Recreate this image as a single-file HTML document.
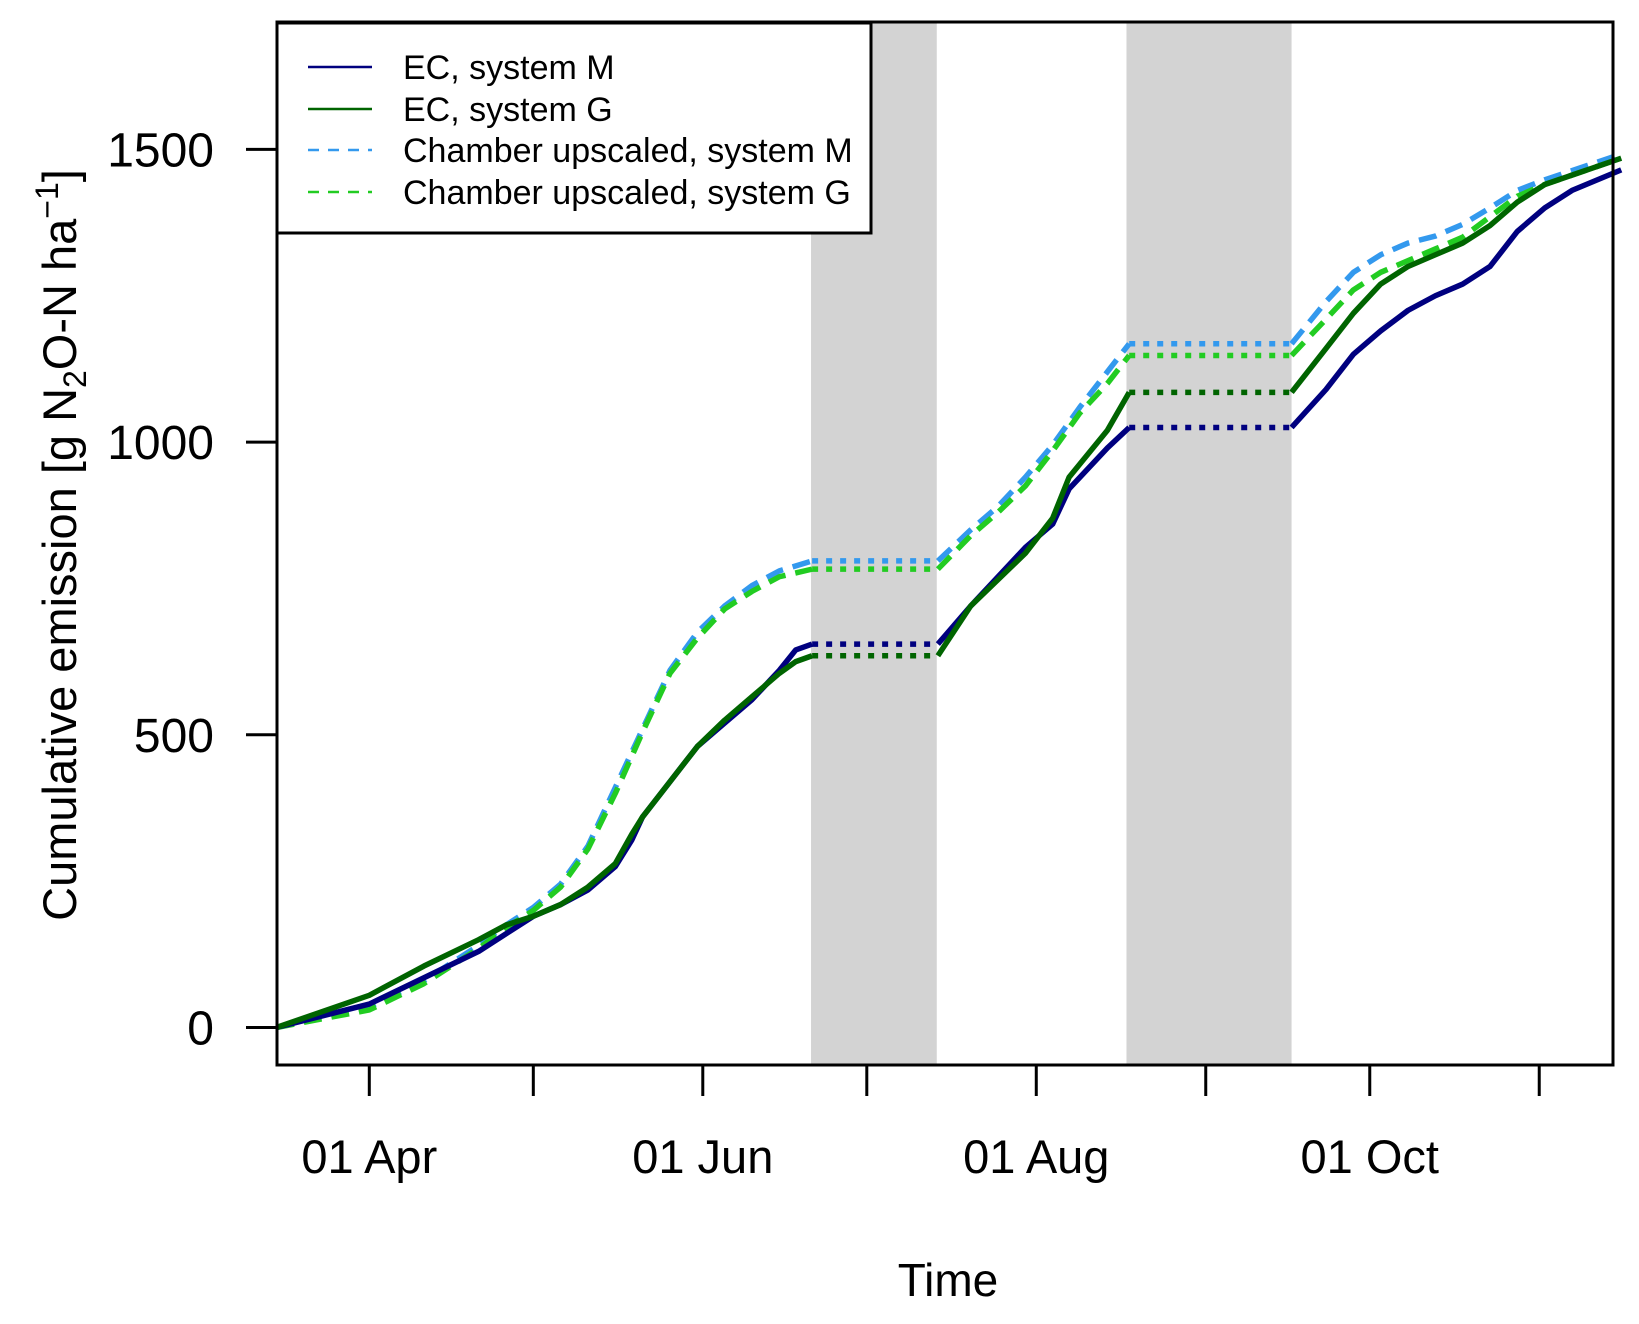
<!DOCTYPE html>
<html><head><meta charset="utf-8"><style>
html,body{margin:0;padding:0;background:#fff;}
svg{display:block;font-family:"Liberation Sans",Arial,sans-serif;}
</style></head><body>
<svg id="chart" width="1639" height="1324" viewBox="0 0 1639 1324" xmlns="http://www.w3.org/2000/svg">
<g id="bands"></g>
<g id="series"></g>
<rect x="277" y="22" width="1336" height="1043" fill="none" stroke="#000" stroke-width="3"/>
<g id="yaxis"></g>
<g id="xaxis"></g>
<text x="948" y="1296" font-size="46" text-anchor="middle">Time</text>
<text transform="translate(76,545) rotate(-90)" font-size="47" text-anchor="middle">Cumulative emission [g N<tspan font-size="32" dy="10">2</tspan><tspan dy="-10">O-N ha</tspan><tspan font-size="32" dy="-18">−1</tspan><tspan dy="18">]</tspan></text>
<g>
<rect x="277" y="23" width="594" height="210" fill="#fff" stroke="#000" stroke-width="3"/>
<g><line x1="308" y1="67" x2="372" y2="67" stroke="#00007f" stroke-width="2.5"/><text x="403" y="79" font-size="34">EC, system M</text></g>
<g><line x1="308" y1="109" x2="372" y2="109" stroke="#006400" stroke-width="2.5"/><text x="403" y="121" font-size="34">EC, system G</text></g>
<g><line x1="308" y1="150" x2="372" y2="150" stroke="#3399ee" stroke-width="2.5" stroke-dasharray="11,9"/><text x="403" y="162" font-size="34">Chamber upscaled, system M</text></g>
<g><line x1="308" y1="192" x2="372" y2="192" stroke="#22cc22" stroke-width="2.5" stroke-dasharray="11,9"/><text x="403" y="204" font-size="34">Chamber upscaled, system G</text></g>
</g>
</svg>
<script>
// days relative to 01 Apr
const gapBands = [[80.8,103.8],[138.5,168.7]];
const yTicks = [0,500,1000,1500];
const xTickDays = [0,30,61,91,122,153,183,214];
const xTickLabels = ["01 Apr","","01 Jun","","01 Aug","","01 Oct",""];
const ecMDays = [-17,0,10,20,25,30,35,40,45,48,50,55,60,65,70,75,78,81,104,110,115,120,125,128,135,139,168.7,175,180,185,190,195,200,205,210,215,220,229];
const ecMVals = [0,40,85,130,160,190,210,235,275,320,360,420,480,520,560,610,645,655,655,720,770,820,860,920,990,1025,1025,1090,1150,1190,1225,1250,1270,1300,1360,1400,1430,1465];
const ecGDays = [-17,0,10,20,25,30,35,40,45,48,50,55,60,65,70,75,78,81,104,110,115,120,125,128,135,139,168.7,175,180,185,190,195,200,205,210,215,229];
const ecGVals = [0,55,105,150,175,190,210,240,280,330,360,420,480,525,565,605,625,635,635,720,765,810,870,940,1020,1085,1085,1160,1220,1270,1300,1320,1340,1370,1410,1440,1485];
const chMDays = [-17,0,10,20,25,30,35,40,45,50,55,60,65,70,75,81,104,110,115,120,125,130,135,139,168.7,175,180,185,190,195,200,205,210,215,229];
const chMVals = [0,35,80,140,175,205,245,310,410,510,610,675,720,755,780,797,797,850,890,940,995,1060,1120,1168,1168,1240,1290,1320,1340,1352,1372,1400,1430,1448,1492];
const chGDays = [-17,0,10,20,25,30,35,40,45,50,55,60,65,70,75,81,104,110,115,120,125,130,135,139,168.7,175,180,185,190,195,200,205,210,215,229];
const chGVals = [0,30,75,135,170,200,240,305,400,505,605,665,715,745,770,783,783,840,880,925,985,1050,1100,1148,1148,1210,1260,1290,1310,1330,1350,1385,1420,1440,1485];

const NS="http://www.w3.org/2000/svg";
const X = d => 369.3 + 5.467*d;
const Y = v => 1027.5 - v*0.5854;
function mk(tag, attrs, parent){const e=document.createElementNS(NS,tag);for(const k in attrs)e.setAttribute(k,attrs[k]);parent.appendChild(e);return e;}

const bands=document.getElementById('bands');
gapBands.forEach(b=>{
  const r=mk('rect',{x:X(b[0]),y:22,width:X(b[1])-X(b[0]),height:1043,fill:'#d3d3d3'},bands);
  
  
});
const ya=document.getElementById('yaxis');
yTicks.forEach(v=>{
  const l=mk('line',{x1:246,x2:277,y1:Y(v),y2:Y(v),stroke:'#000','stroke-width':3},ya);
  
  
  const t=mk('text',{x:214,y:Y(v)+17,'font-size':48,'text-anchor':'end'},ya);
  t.textContent=v;
  
  
});
const xa=document.getElementById('xaxis');
xTickDays.forEach((d,i)=>{
  const l=mk('line',{x1:X(d),x2:X(d),y1:1065,y2:1096,stroke:'#000','stroke-width':3},xa);
  
  
  if(xTickLabels[i]){
    const t=mk('text',{x:X(d),y:1173,'font-size':47,'text-anchor':'middle'},xa);
    t.textContent=xTickLabels[i];
    
    
  }
});
const sg=document.getElementById('series');
function inGap(a,b){return gapBands.some(g=>a>=g[0]-2&&b<=g[1]+0.5&&(b-a)>15);}
function draw(days,vals,color,dash,name){
  let seg=[];
  const flush=()=>{ if(seg.length>1){
    const p=mk('polyline',{points:seg.map(q=>q.join(',')).join(' '),fill:'none',stroke:color,'stroke-width':5.5,'stroke-linejoin':'round','stroke-dasharray':dash},sg);
    
    
  } seg=[]; };
  for(let i=0;i<days.length;i++){
    if(i>0 && inGap(days[i-1],days[i])){
      flush();
      const p=mk('line',{x1:X(days[i-1]),y1:Y(vals[i-1]),x2:X(days[i]),y2:Y(vals[i]),stroke:color,'stroke-width':5.5,'stroke-dasharray':'6,8'},sg);
      
      
    }
    seg.push([X(days[i]),Y(vals[i])]);
  }
  flush();
}
draw(chMDays,chMVals,'#3399ee','18,10','chamber-m-line');
draw(chGDays,chGVals,'#22cc22','18,10','chamber-g-line');
draw(ecMDays,ecMVals,'#00007f','none','ec-m-line');
draw(ecGDays,ecGVals,'#006400','none','ec-g-line');
</script>
</body></html>
